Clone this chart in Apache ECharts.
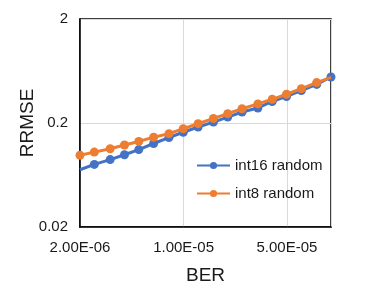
<!DOCTYPE html>
<html>
<head>
<meta charset="utf-8">
<script src="https://cdn.jsdelivr.net/npm/echarts@6/dist/echarts.min.js"></script>
<style>html,body{margin:0;padding:0;background:#fff}#c{width:374px;height:293px}</style>
</head>
<body>
<div id="c"></div>
<script>
var berValues = [2e-6, 2.5e-6, 3.2e-6, 4e-6, 5e-6, 6.3e-6, 8e-6, 1e-5, 1.26e-5, 1.6e-5, 2e-5, 2.5e-5, 3.2e-5, 4e-5, 5e-5, 6.3e-5, 8e-5, 1e-4];
var int16Random = [0.071, 0.080, 0.089, 0.099, 0.111, 0.127, 0.145, 0.163, 0.183, 0.204, 0.228, 0.255, 0.279, 0.322, 0.36, 0.41, 0.47, 0.554];
var int8Random = [0.098, 0.105, 0.113, 0.123, 0.133, 0.146, 0.158, 0.176, 0.197, 0.221, 0.246, 0.274, 0.305, 0.338, 0.378, 0.428, 0.489, 0.55];
var seriesNames = ['int16 random', 'int8 random'];

function pairs(xs, ys, hideIdx) {
  return xs.map(function (x, i) {
    var item = { value: [x, ys[i]] };
    if (i === hideIdx) item.symbol = 'none';
    return item;
  });
}
function fmtX(v) {
  var r = parseFloat(Number(v).toPrecision(2));
  var s = r.toExponential(2).toUpperCase();
  var m = s.match(/^(-?[\d.]+)E([+-])(\d+)$/);
  if (!m) return s;
  var e = m[3].length < 2 ? '0' + m[3] : m[3];
  return m[1] + 'E' + m[2] + e;
}
function fmtY(v) {
  return String(parseFloat(Number(v).toPrecision(2)));
}
var font = '"Liberation Sans", Arial, sans-serif';
var chart = echarts.init(document.getElementById('c'), null, { renderer: 'canvas' });
chart.setOption({
  animation: false,
  grid: { left: 80, right: 43, top: 19, bottom: 66, show: true, borderColor: '#000', borderWidth: 1.5 },
  legend: {
    orient: 'vertical', left: 196, top: 158, padding: 0, itemWidth: 33, itemHeight: 9, itemGap: 13,
    textStyle: { fontFamily: font, fontSize: 15, color: '#1a1a1a' },
    data: seriesNames
  },
  xAxis: {
    type: 'log', logBase: 5, min: 2e-6, max: 1e-4, interval: 1,
    name: 'BER', nameLocation: 'middle', nameGap: 39, nameMoveOverlap: false,
    nameTextStyle: { fontFamily: font, fontSize: 19, color: '#1a1a1a' },
    axisLine: { show: true, lineStyle: { color: '#000', width: 1.5 } },
    axisTick: { show: false },
    axisLabel: { fontFamily: font, fontSize: 15, color: '#1a1a1a', margin: 13, formatter: fmtX },
    splitLine: { show: true, lineStyle: { color: '#d9d9d9', width: 1 } }
  },
  yAxis: {
    type: 'log', logBase: 10, min: 0.02, max: 2, interval: 1,
    name: 'RRMSE', nameLocation: 'middle', nameGap: 43, nameMoveOverlap: false,
    nameTextStyle: { fontFamily: font, fontSize: 19, color: '#1a1a1a' },
    axisLine: { show: true, lineStyle: { color: '#000', width: 1.5 } },
    axisTick: { show: false },
    axisLabel: { fontFamily: font, fontSize: 15, color: '#1a1a1a', margin: 12, formatter: fmtY },
    splitLine: { show: true, lineStyle: { color: '#d9d9d9', width: 1 } }
  },
  series: [
    {
      name: seriesNames[0], type: 'line', data: pairs(berValues, int16Random, 0),
      symbol: 'circle', symbolSize: 9, showAllSymbol: true,
      lineStyle: { color: '#4472C4', width: 3 }, itemStyle: { color: '#4472C4' }, z: 2
    },
    {
      name: seriesNames[1], type: 'line', data: pairs(berValues, int8Random, berValues.length - 1),
      symbol: 'circle', symbolSize: 9, showAllSymbol: true,
      lineStyle: { color: '#ED7D31', width: 3 }, itemStyle: { color: '#ED7D31' }, z: 3
    }
  ]
});
</script>
</body>
</html>
